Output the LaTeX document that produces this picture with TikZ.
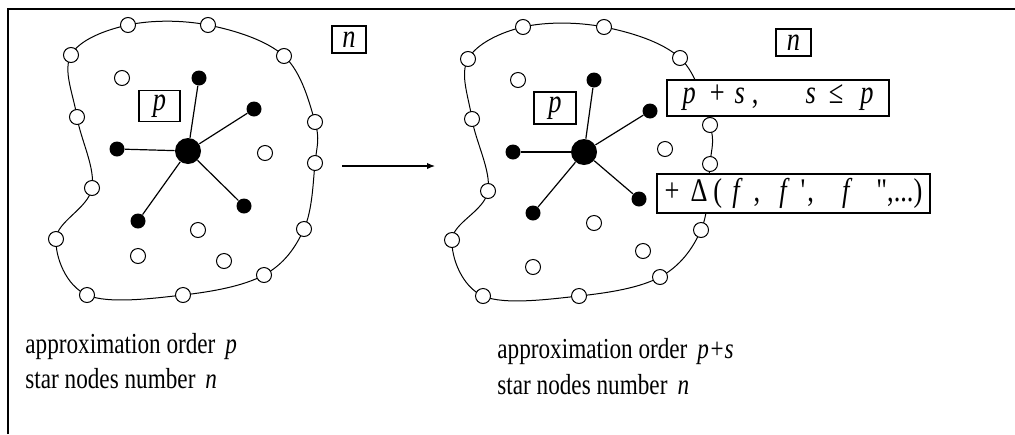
\documentclass[tikz,border=0pt]{standalone}
\usepackage{fontspec}
\setmainfont{Liberation Serif}[Ligatures=TeXOff, FakeStretch=0.8]
\usepackage{tikz}
\usetikzlibrary{arrows.meta,positioning,backgrounds}

\begin{document}
\begin{tikzpicture}[
    x=0.5pt, y=-0.5pt,
    >={Latex[length=4pt,width=3.2pt]},
    font=\fontsize{14.5}{17}\selectfont,
    wnode/.style={circle, draw, line width=0.5pt, fill=white, minimum size=7.5pt, inner sep=0pt},
    bnode/.style={circle, fill=black, minimum size=7.5pt, inner sep=0pt},
    hub/.style={circle, fill=black, minimum size=13pt, inner sep=0pt},
    lbl/.style={draw, line width=0.6pt, fill=white, inner sep=0pt, align=center, font=\fontsize{16.5}{18}\selectfont},
    spoke/.style={line width=0.6pt},
    rim/.style={line width=0.5pt},
    note/.style={anchor=base west, inner sep=0pt}
]
\useasboundingbox (0,0) rectangle (1015,434);
\draw[line width=1pt] (8,434) -- (8,9) -- (1015,9);

% left star, order p
\foreach \i/\x/\y in {1/128/25, 2/208/25, 3/284/56, 4/315/122, 5/315/163, 6/304/229, 7/264/275,
    8/183/295, 9/87/295, 10/56/239, 11/92/188, 12/77/117, 13/71/55}
    \node[wnode] (lb\i) at (\x,\y) {};
\foreach \i/\x/\y in {1/122/78, 2/265/153, 3/198/230, 4/138/256, 5/224/261}
    \node[wnode] (li\i) at (\x,\y) {};
\node[hub] (lc) at (188,151) {};
\foreach \i/\x/\y in {1/199/78, 2/254/109, 3/117/149, 4/244/206, 5/138/221} {
    \node[bnode] (ls\i) at (\x,\y) {};
    \draw[spoke] (lc) -- (ls\i);
}
\begin{scope}[on background layer]
\draw[rim] plot[smooth cycle, tension=0.6] coordinates {(lb1.center) (lb2.center) (lb3.center) (lb4.center)
    (lb5.center) (lb6.center) (lb7.center) (lb8.center) (lb9.center) (lb10.center) (lb11.center)
    (lb12.center) (lb13.center)};
\end{scope}
\node[lbl, minimum width=20.5pt, minimum height=15.5pt] (lp) at (159.5,106) {\textit{p}};
\node[lbl, minimum width=17pt, minimum height=13.5pt] (ln) at (349,39.5) {\textit{n}};
\node[note] (lt1) at (25,353) {approximation order\hspace{5pt}\textit{p}};
\node[note] (lt2) at (25,388) {star nodes number\hspace{5pt}\textit{n}};

\coordinate (a0) at (342,166);
\coordinate (a1) at (435,166);
\draw[->, line width=0.6pt] (a0) -- (a1);

% right star, order p+s
\foreach \i/\x/\y in {1/523/27, 2/604/27, 3/680/58, 4/710/125, 5/710/164, 6/701/230, 7/660/277,
    8/579/296, 9/483/296, 10/452/240, 11/488/191, 12/472/119, 13/468/59}
    \node[wnode] (rb\i) at (\x,\y) {};
\foreach \i/\x/\y in {1/518/80, 2/665/149, 3/594/223, 4/533/267, 5/643/251}
    \node[wnode] (ri\i) at (\x,\y) {};
\node[hub] (rc) at (584,152) {};
\foreach \i/\x/\y in {1/594/80, 2/650/111, 3/513/152, 4/639/199, 5/533/213} {
    \node[bnode] (rs\i) at (\x,\y) {};
    \draw[spoke] (rc) -- (rs\i);
}
\begin{scope}[on background layer]
\draw[rim] plot[smooth cycle, tension=0.6] coordinates {(rb1.center) (rb2.center) (rb3.center) (rb4.center)
    (rb5.center) (rb6.center) (rb7.center) (rb8.center) (rb9.center) (rb10.center) (rb11.center)
    (rb12.center) (rb13.center)};
\end{scope}
\node[lbl, minimum width=21pt, minimum height=16pt] (rp) at (555,108) {\textit{p}};
\node[lbl, minimum width=17.5pt, minimum height=13.5pt] (rn) at (793.5,42.5) {\textit{n}};
\node[lbl, minimum width=111pt, minimum height=18pt] (ps) at (778,98)
    {\textit{p}\hspace{7pt}+\hspace{5pt}\textit{s}\hspace{3.5pt},\hspace{23.5pt}\textit{s}\hspace{6.5pt}≤\hspace{8.5pt}\textit{p}};
\node[lbl, minimum width=136.5pt, minimum height=19.5pt] (dl) at (793.5,193.5)
    {+\hspace{5.5pt}Δ\hspace{3pt}(\hspace{5pt}\textit{f}\hspace{5.5pt},\hspace{9.5pt}\textit{f}\hspace{5.5pt}'\hspace{1pt},\hspace{14pt}\textit{f}\hspace{12pt}",...)};
\node[note] (rt1) at (497,358) {approximation order\hspace{5pt}\textit{p+s}};
\node[note] (rt2) at (497,394) {star nodes number\hspace{5pt}\textit{n}};
\end{tikzpicture}
\end{document}
